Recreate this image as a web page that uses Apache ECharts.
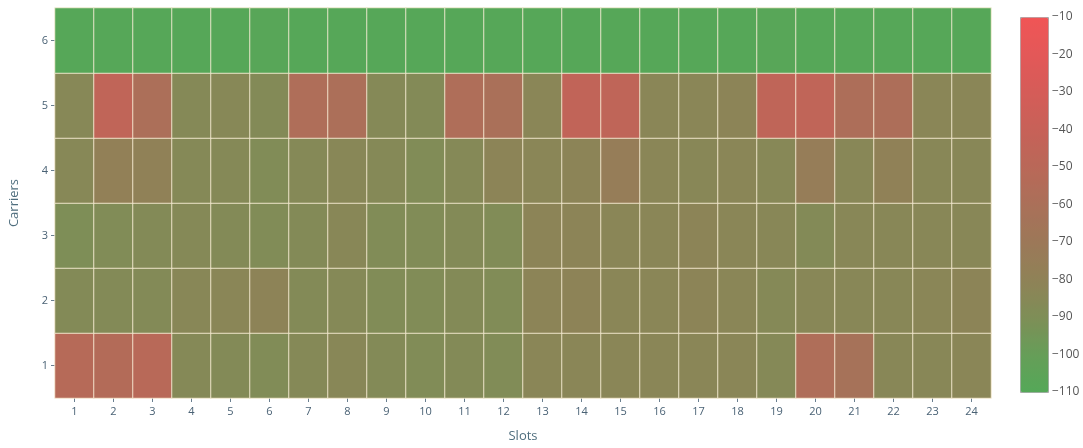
<!DOCTYPE html>
<html>
<head>
<meta charset="utf-8">
<script src="https://cdn.jsdelivr.net/npm/echarts@6/dist/echarts.min.js"></script>
<style>
html,body{margin:0;padding:0;background:#ffffff;}
#chart{width:1083px;height:448px;}
</style>
</head>
<body>
<div id="chart"></div>
<script>
const slots = ['1','2','3','4','5','6','7','8','9','10','11','12','13','14','15','16','17','18','19','20','21','22','23','24'];
const carriers = ['1','2','3','4','5','6'];
const colorTicks = [-110,-100,-90,-80,-70,-60,-50,-40,-30,-20,-10];

const carrier1 = [-52,-54,-51,-86,-87,-88,-86,-84,-87,-88,-87,-88,-83,-83,-83,-83,-83,-83,-86,-57,-63,-84,-84,-83];
const carrier2 = [-87,-87,-87,-84,-83,-81,-87,-86,-88,-88,-87,-88,-82,-81,-83,-83,-82,-83,-86,-84,-84,-84,-83,-82];
const carrier3 = [-90,-88,-87,-86,-87,-88,-87,-84,-88,-88,-87,-88,-82,-82,-83,-83,-82,-83,-84,-87,-84,-84,-84,-84];
const carrier4 = [-85,-78,-79,-86,-86,-88,-86,-84,-86,-88,-86,-82,-83,-82,-75,-83,-84,-83,-85,-75,-84,-79,-84,-84];
const carrier5 = [-85,-45,-59,-86,-85,-87,-57,-59,-86,-87,-57,-60,-83,-44,-46,-83,-83,-82,-46,-45,-58,-58,-83,-83];
const carrier6 = [-109,-109,-109,-109,-109,-108,-109,-109,-109,-109,-109,-109,-109,-109,-109,-109,-109,-109,-108,-109,-109,-109,-109,-109];

const rows = [carrier1, carrier2, carrier3, carrier4, carrier5, carrier6];
const data = [];
rows.forEach((row, yi) => row.forEach((v, xi) => data.push([xi, yi, v])));

const scaleColors = [
  'rgb(84,168,88)', 'rgb(102,158,88)', 'rgb(126,142,87)', 'rgb(143,130,87)',
  'rgb(156,120,88)', 'rgb(170,112,89)', 'rgb(185,104,88)', 'rgb(199,97,88)',
  'rgb(213,92,88)', 'rgb(227,88,88)', 'rgb(240,85,86)'
];

const minus = s => String(s).replace('-', '\u2212');
const chart = echarts.init(document.getElementById('chart'));
chart.setOption({
  backgroundColor: '#ffffff',
  animation: false,
  textStyle: { fontFamily: 'Open Sans' },
  grid: [
    { left: 55, right: 92, top: 8, bottom: 46 },
    { left: 1020, top: 17, width: 28, height: 375 }
  ],
  xAxis: [
    {
      type: 'category', data: slots, gridIndex: 0,
      name: 'Slots', nameLocation: 'middle', nameGap: 32,
      nameTextStyle: { color: '#4f6e7e', fontSize: 13, fontFamily: 'Open Sans' },
      axisLine: { show: false },
      axisTick: { show: true, alignWithLabel: true, length: 4, lineStyle: { color: '#6a7f90' } },
      axisLabel: { color: '#4a6275', fontSize: 11, margin: 8, fontFamily: 'Open Sans' },
      splitLine: { show: false }
    },
    { type: 'value', gridIndex: 1, show: false, min: 0, max: 1 }
  ],
  yAxis: [
    {
      type: 'category', data: carriers, gridIndex: 0,
      name: 'Carriers', nameLocation: 'middle', nameGap: 34, nameRotate: 90,
      nameTextStyle: { color: '#4f6e7e', fontSize: 13, fontFamily: 'Open Sans' },
      axisLine: { show: false },
      axisTick: { show: true, alignWithLabel: true, length: 4, lineStyle: { color: '#6a7f90' } },
      axisLabel: { color: '#4a6275', fontSize: 11, margin: 7, fontFamily: 'Open Sans' },
      splitLine: { show: false }
    },
    {
      type: 'value', gridIndex: 1, position: 'right',
      min: colorTicks[0], max: colorTicks[colorTicks.length - 1], interval: 10,
      axisLine: { show: false },
      axisTick: { show: false },
      splitLine: { show: false },
      axisLabel: { color: '#555', fontSize: 12, margin: 4, fontFamily: 'Open Sans', formatter: v => minus(v) }
    }
  ],
  visualMap: {
    type: 'continuous',
    min: -110, max: -10,
    calculable: false,
    show: true,
    left: 1020, top: 17,
    padding: 0,
    itemWidth: 28, itemHeight: 375,
    text: null,
    showLabel: false,
    borderColor: '#a8a8a8', borderWidth: 1,
    inRange: { color: scaleColors },
    textStyle: { color: 'transparent' },
    seriesIndex: 0
  },
  series: [{
    type: 'heatmap',
    xAxisIndex: 0, yAxisIndex: 0,
    data: data,
    itemStyle: { borderColor: 'rgba(250,238,215,0.85)', borderWidth: 1 },
    emphasis: { disabled: true }
  }]
});
</script>
</body>
</html>
